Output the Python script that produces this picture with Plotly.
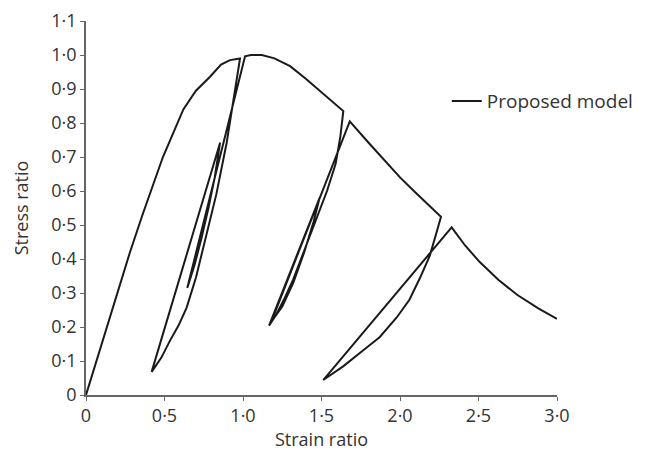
import plotly.graph_objects as go

# ---- data (strain ratio, stress ratio) ----
rise_x = [0, 0.10, 0.20, 0.28, 0.36, 0.49, 0.62, 0.70, 0.79, 0.86, 0.917, 0.981]
rise_y = [0, 0.15, 0.30, 0.42, 0.53, 0.70, 0.84, 0.895, 0.936, 0.972, 0.985, 0.99]

unload1_x = [0.981, 0.94, 0.896, 0.83, 0.758, 0.70, 0.641, 0.59, 0.535, 0.48, 0.418]
unload1_y = [0.99, 0.87, 0.742, 0.59, 0.451, 0.345, 0.257, 0.205, 0.16, 0.11, 0.068]

reload1a_x = [0.418, 0.854]
reload1a_y = [0.068, 0.742]

inner1_x = [0.854, 0.82, 0.78, 0.735, 0.69, 0.645]
inner1_y = [0.742, 0.64, 0.55, 0.46, 0.38, 0.315]

reload1b_x = [0.645, 1.013]
reload1b_y = [0.315, 0.996]

env2_x = [1.013, 1.05, 1.12, 1.20, 1.30, 1.40, 1.50, 1.60, 1.639]
env2_y = [0.996, 1.0, 1.0, 0.99, 0.967, 0.93, 0.89, 0.85, 0.835]

unload2_x = [1.639, 1.62, 1.59, 1.535, 1.46, 1.39, 1.32, 1.26, 1.21, 1.166]
unload2_y = [0.835, 0.76, 0.68, 0.60, 0.51, 0.42, 0.34, 0.28, 0.235, 0.204]

reload2a_x = [1.166, 1.488]
reload2a_y = [0.204, 0.58]

inner2_x = [1.488, 1.45, 1.39, 1.32, 1.25, 1.18]
inner2_y = [0.58, 0.51, 0.42, 0.33, 0.26, 0.215]

reload2b_x = [1.18, 1.68]
reload2b_y = [0.215, 0.805]

env3_x = [1.68, 1.80, 1.90, 2.00, 2.10, 2.20, 2.261]
env3_y = [0.805, 0.742, 0.69, 0.64, 0.595, 0.552, 0.524]

unload3_x = [2.261, 2.234, 2.19, 2.127, 2.06, 1.979, 1.87, 1.764, 1.64, 1.511]
unload3_y = [0.524, 0.48, 0.41, 0.344, 0.28, 0.228, 0.17, 0.131, 0.085, 0.044]

reload3_x = [1.511, 2.329]
reload3_y = [0.044, 0.493]

tail_x = [2.329, 2.416, 2.508, 2.628, 2.748, 2.881, 3.0]
tail_y = [0.493, 0.439, 0.391, 0.338, 0.294, 0.255, 0.224]

x_tickvals = [0, 0.5, 1.0, 1.5, 2.0, 2.5, 3.0]
x_ticktext = ["0", "0·5", "1·0", "1·5", "2·0", "2·5", "3·0"]
y_tickvals = [0, 0.1, 0.2, 0.3, 0.4, 0.5, 0.6, 0.7, 0.8, 0.9, 1.0, 1.1]
y_ticktext = ["0", "0·1", "0·2", "0·3", "0·4", "0·5", "0·6", "0·7", "0·8", "0·9", "1·0", "1·1"]

segments_x = [rise_x, unload1_x, reload1a_x, inner1_x, reload1b_x, env2_x, unload2_x,
              reload2a_x, inner2_x, reload2b_x, env3_x, unload3_x, reload3_x, tail_x]
segments_y = [rise_y, unload1_y, reload1a_y, inner1_y, reload1b_y, env2_y, unload2_y,
              reload2a_y, inner2_y, reload2b_y, env3_y, unload3_y, reload3_y, tail_y]

xs, ys = [], []
for sx, sy in zip(segments_x, segments_y):
    start = 1 if xs else 0
    xs.extend(sx[start:])
    ys.extend(sy[start:])

FONT = "Open Sans"
AX = "#666666"
TXT = "#333333"

fig = go.Figure()
fig.add_trace(go.Scatter(x=xs, y=ys, mode="lines", name="Proposed model",
                         line=dict(color="#1a1a1a", width=2)))

fig.update_layout(
    width=651, height=452,
    margin=dict(l=78, r=102, t=13, b=65, autoexpand=False),
    paper_bgcolor="white", plot_bgcolor="white",
    font=dict(family=FONT, size=18, color=TXT),
    showlegend=True,
    legend=dict(x=0.766, y=0.786, xanchor="left", yanchor="middle",
                bgcolor="rgba(0,0,0,0)", font=dict(size=19, color=TXT)),
)
fig.update_xaxes(range=[0, 3.0], tickvals=x_tickvals, ticktext=x_ticktext,
                 showgrid=False, zeroline=False, showline=True, linecolor=AX, linewidth=1.5,
                 ticks="outside", ticklen=4, tickcolor=AX, tickwidth=1, automargin=False,
                 ticklabeloverflow="allow",
                 tickfont=dict(size=18, color=TXT),
                 title=dict(text="Strain ratio", standoff=1, font=dict(size=18, color=TXT)))
fig.update_yaxes(range=[0, 1.1], tickvals=y_tickvals, ticktext=y_ticktext,
                 showgrid=False, zeroline=False, showline=True, linecolor=AX, linewidth=1.5,
                 ticks="outside", ticklen=4, tickcolor=AX, tickwidth=1, automargin=False,
                 ticklabeloverflow="allow",
                 tickfont=dict(size=18, color=TXT),
                 title=dict(text="Stress ratio", standoff=18, font=dict(size=18, color=TXT)))

fig.write_html("out.html")
